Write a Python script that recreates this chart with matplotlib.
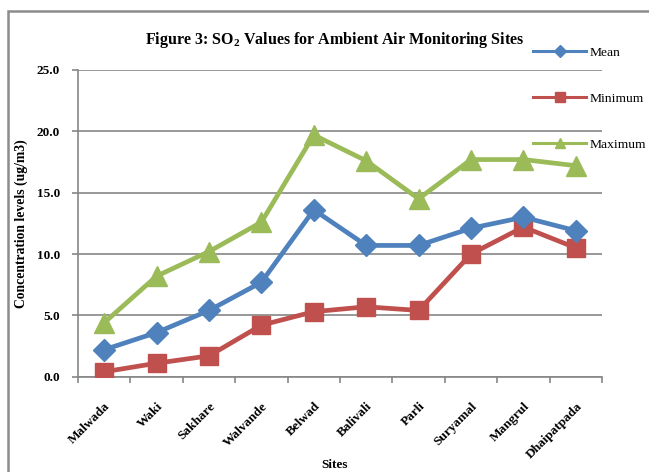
import numpy as np
import matplotlib
matplotlib.use('Agg')
import matplotlib.pyplot as plt
from matplotlib.patches import Rectangle

plt.rcParams['font.family'] = ['Liberation Serif', 'DejaVu Serif']
plt.rcParams['mathtext.fontset'] = 'custom'
plt.rcParams['mathtext.rm'] = 'Liberation Serif'
plt.rcParams['mathtext.bf'] = 'Liberation Serif:bold'

# ========== 数据 ==========
sites = ['Malwada', 'Waki', 'Sakhare', 'Walvande', 'Belwad',
         'Balivali', 'Parli', 'Suryamal', 'Mangrul', 'Dhaipatpada']
mean_vals = [2.2, 3.6, 5.4, 7.7, 13.6, 10.7, 10.7, 12.1, 13.0, 11.9]
min_vals = [0.4, 1.1, 1.7, 4.2, 5.3, 5.7, 5.4, 10.0, 12.2, 10.5]
max_vals = [4.4, 8.2, 10.2, 12.6, 19.7, 17.6, 14.5, 17.7, 17.7, 17.2]
yticks = [0, 5, 10, 15, 20, 25]

blue = '#4F81BD'
red = '#C0504D'
green = '#9BBB59'
grey = '#868686'

fig = plt.figure(figsize=(6.49, 4.72), dpi=100)
ax = fig.add_axes([0.1202, 0.2019, 0.8074, 0.6498])

# 外框
fig.patches.append(Rectangle((8 / 649, -0.1), 1.2, 1.1 - 11 / 472, transform=fig.transFigure,
                             fill=False, edgecolor='#8c8c8c', linewidth=1.8))

x = np.arange(len(sites))
l1, = ax.plot(x, mean_vals, color=blue, lw=3.4, marker='D', ms=11, label='Mean', zorder=4)
l2, = ax.plot(x, min_vals, color=red, lw=3.4, marker='s', ms=13, label='Minimum', zorder=3)
l3, = ax.plot(x, max_vals, color=green, lw=3.4, marker='^', ms=14, label='Maximum', zorder=2)

ax.set_xlim(-0.5, len(sites) - 0.5)
ax.set_ylim(0, 25)
ax.set_yticks(yticks)
ax.set_yticklabels([f'{v:.1f}' for v in yticks], fontweight='bold', fontsize=9.5)
ax.yaxis.grid(True, color=grey, linewidth=1.2)
ax.set_axisbelow(True)

ax.set_xticks(x)
ax.set_xticklabels(sites, rotation=45, ha='right', va='top', rotation_mode='anchor',
                   fontweight='bold', fontsize=9.5)
ax.set_xticks(np.arange(-0.5, len(sites)), minor=True)
ax.tick_params(axis='x', which='major', length=0, pad=17)
ax.tick_params(axis='x', which='minor', length=4, color=grey, width=1.2)
ax.tick_params(axis='y', length=4, color=grey, width=1.2, pad=9)

for s in ['top', 'right']:
    ax.spines[s].set_visible(False)
for s in ['left', 'bottom']:
    ax.spines[s].set_color(grey)
    ax.spines[s].set_linewidth(1.2)

ax.set_ylabel('Concentration levels (ug/m3)', fontweight='bold', fontsize=9.8, labelpad=6)
fig.text(0.516, 1 - 465 / 472, 'Sites', ha='center', va='center', fontweight='bold', fontsize=9.5)

fig.text(0.516, 0.915, r'Figure 3: SO$_\mathbf{2}$ Values for Ambient Air Monitoring Sites',
         ha='center', va='center', fontweight='bold', fontsize=11.5)

leg = fig.legend(handles=[l1, l2, l3], loc='upper left', bbox_to_anchor=(0.803, 0.928),
                 frameon=False, fontsize=9.7, labelspacing=2.5, handlelength=3.9,
                 handletextpad=0.3, markerscale=0.55)
for h in leg.legend_handles:
    h.set_linewidth(2.2)

plt.savefig('out.png', dpi=100)
